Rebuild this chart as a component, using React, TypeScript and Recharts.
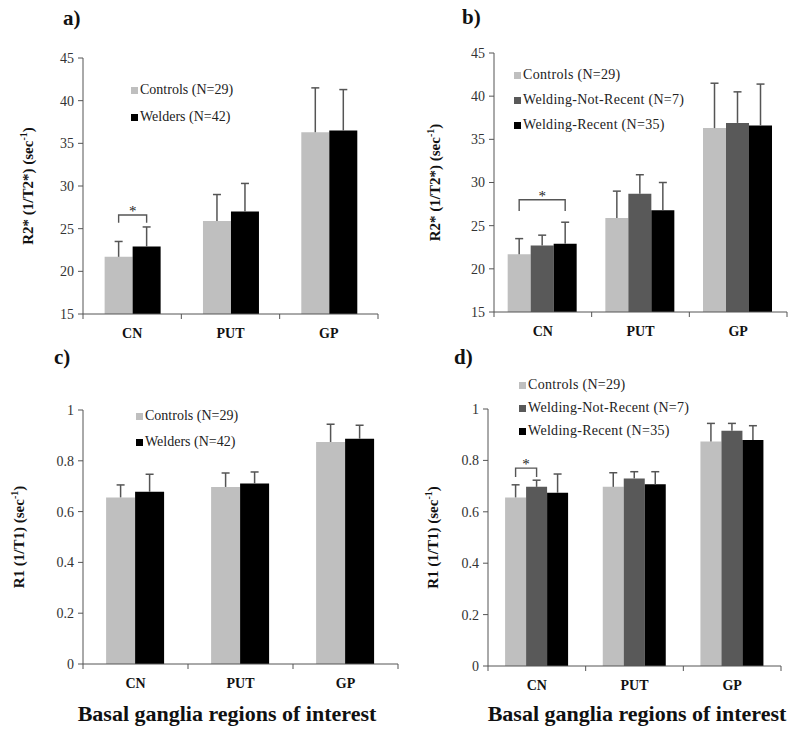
import React from 'react';
import { BarChart, Bar, XAxis, YAxis, ErrorBar, Legend } from 'recharts';

// ---------- data ----------
const categories = ['CN', 'PUT', 'GP'];
const namesTwo = ['Controls (N=29)', 'Welders (N=42)'];
const namesThree = ['Controls (N=29)', 'Welding-Not-Recent (N=7)', 'Welding-Recent (N=35)'];

const r2Ticks = [15, 20, 25, 30, 35, 40, 45];
const r1Ticks = [0, 0.2, 0.4, 0.6, 0.8, 1];

// R2* (panels a, b)
const r2ControlsMean = [21.7, 25.9, 36.3];
const r2ControlsSd = [1.8, 3.1, 5.2];
const r2WeldersMean = [22.9, 27.0, 36.5];
const r2WeldersSd = [2.3, 3.3, 4.8];
const r2NotRecentMean = [22.7, 28.7, 36.9];
const r2NotRecentSd = [1.2, 2.2, 3.6];
const r2RecentMean = [22.9, 26.8, 36.6];
const r2RecentSd = [2.5, 3.2, 4.8];

// R1 (panels c, d)
const r1ControlsMean = [0.656, 0.697, 0.874];
const r1ControlsSd = [0.049, 0.055, 0.07];
const r1WeldersMean = [0.678, 0.711, 0.887];
const r1WeldersSd = [0.069, 0.045, 0.053];
const r1NotRecentMean = [0.697, 0.73, 0.915];
const r1NotRecentSd = [0.026, 0.026, 0.029];
const r1RecentMean = [0.674, 0.707, 0.879];
const r1RecentSd = [0.073, 0.049, 0.056];

// significance brackets: level of bar, lower end of legs
const sigLevelA = [26.6, null, null];
const sigDropA = [25.7, null, null];
const sigLevelB = [28.0, null, null];
const sigDropB = [26.7, null, null];
const sigLevelD = [0.77, null, null];
const sigDropD = [0.735, null, null];

// ---------- styling ----------
const FONT = "'Liberation Serif', 'Times New Roman', serif";
const COLORS = ['#bfbfbf', '#595959', '#000000'];
const AXIS = '#555555';
const ERR = '#555555';

const buildRows = (means: number[][], sds: number[][]) =>
  categories.map((cat, i) => {
    const row: any = { cat };
    means.forEach((m, s) => {
      row['v' + s] = m[i];
      row['e' + s] = [0, sds[s][i]];
    });
    return row;
  });

const makeCatTick = (band: number) => (props: any) => {
  const { x, y, payload, index, visibleTicksCount } = props;
  const last = index === visibleTicksCount - 1;
  return (
    <g>
      <line x1={x - band / 2} x2={x - band / 2} y1={y} y2={y + 5} stroke={AXIS} />
      {last && <line x1={x + band / 2} x2={x + band / 2} y1={y} y2={y + 5} stroke={AXIS} />}
      <text x={x} y={y + 19} textAnchor="middle" dominantBaseline="central" fontFamily={FONT}
        fontWeight="bold" fontSize={14} fill="#111">{payload.value}</text>
    </g>
  );
};

const makeBracket = (levels: (number | null)[], drops: (number | null)[], span: number, yMin: number) =>
  (props: any) => {
    const vb = props.viewBox && props.viewBox.width != null ? props.viewBox : props;
    const { x, y, width, height } = vb;
    const index = props.index;
    const value = typeof props.value === 'number' ? props.value : Number(props.value);
    const level = levels[index];
    const drop = drops[index];
    if (level == null || drop == null || !isFinite(value)) return null;
    const bottom = y + height;
    const ppu = height / (value - yMin);
    const yl = bottom - (level - yMin) * ppu;
    const yd = bottom - (drop - yMin) * ppu;
    const x1 = x + width / 2;
    const x2 = x + width * (span + 0.5);
    return (
      <g>
        <path d={`M${x1},${yd}V${yl}H${x2}V${yd}`} stroke={ERR} strokeWidth={1.4} fill="none" />
        <text x={(x1 + x2) / 2} y={yl + 1} textAnchor="middle" fontFamily={FONT} fontSize={15}
          style={{ fill: '#222' }}>*</text>
      </g>
    );
  };

const YTitle = (props: any) => {
  const { tx, ty, main } = props;
  return (
    <text x={tx} y={ty} transform={`rotate(-90, ${tx}, ${ty})`} textAnchor="middle" dominantBaseline="central"
      fontFamily={FONT} fontWeight="bold" fontSize={15} fill="#111">
      {main}
      <tspan dy={-5} fontSize={10}>-1</tspan>
      <tspan dy={5}>)</tspan>
    </text>
  );
};

const makeLegend = (rowH: number, fontSize: number, spacing: number) => (props: any) => {
  const payload = props.payload || [];
  return (
    <div style={{ fontFamily: FONT, fontSize, color: '#222', letterSpacing: spacing }}>
      {payload.map((p: any, i: number) => (
        <div key={i} style={{ display: 'flex', alignItems: 'center', height: rowH, whiteSpace: 'nowrap' }}>
          <span style={{ display: 'inline-block', width: 7, height: 7, background: p.color, marginRight: 2 }} />
          <span>{p.value}</span>
        </div>
      ))}
    </div>
  );
};

type PanelProps = {
  left: number; top: number; w: number; h: number;
  plot: { l: number; r: number; t: number; b: number };
  rows: any[]; names: string[]; domain: [number, number]; ticks: number[];
  gap: string; titleMain: string; titleX: number;
  legend: { x: number; y: number; rowH: number; fontSize: number; spacing: number };
  sig: { levels: (number | null)[]; drops: (number | null)[]; span: number };
};

const Panel = (p: PanelProps) => {
  const yW = 50;
  const xH = 30;
  const margin = { top: p.plot.t, right: p.w - p.plot.r, left: p.plot.l - yW, bottom: p.h - p.plot.b - xH };
  const band = (p.plot.r - p.plot.l) / categories.length;
  return (
    <div style={{ position: 'absolute', left: p.left, top: p.top, width: p.w, height: p.h }}>
      <BarChart width={p.w} height={p.h} data={p.rows} margin={margin} barCategoryGap={p.gap} barGap={0}>
        <XAxis dataKey="cat" height={xH} tickLine={false} tickSize={0} tickMargin={0}
          axisLine={{ stroke: AXIS }} tick={makeCatTick(band)} interval={0} />
        <YAxis width={yW} domain={p.domain} ticks={p.ticks} allowDataOverflow tickSize={5} tickMargin={4}
          axisLine={{ stroke: AXIS }} tickLine={{ stroke: AXIS }}
          tick={{ fontFamily: FONT, fontSize: 14, fill: '#333' }}
          label={<YTitle tx={p.titleX} ty={(p.plot.t + p.plot.b) / 2} main={p.titleMain} />} />
        <Legend layout="vertical" align="center" verticalAlign="middle"
          wrapperStyle={{ left: p.legend.x, top: p.legend.y - p.legend.rowH / 2, width: 'auto' }}
          content={makeLegend(p.legend.rowH, p.legend.fontSize, p.legend.spacing)} />
        {p.names.map((n, s) => (
          <Bar key={n} dataKey={'v' + s} name={n} fill={COLORS[p.names.length === 2 && s === 1 ? 2 : s]}
            isAnimationActive={false}
            label={s === 0 ? makeBracket(p.sig.levels, p.sig.drops, p.sig.span, p.domain[0]) : undefined}>
            <ErrorBar dataKey={'e' + s} direction="y" width={4} stroke={ERR} strokeWidth={1.5} />
          </Bar>
        ))}
      </BarChart>
    </div>
  );
};

const labelStyle: React.CSSProperties = {
  position: 'absolute', fontFamily: FONT, fontWeight: 'bold', fontSize: 21, color: '#111', lineHeight: '22px',
};
const footStyle: React.CSSProperties = {
  position: 'absolute', fontFamily: FONT, fontWeight: 'bold', fontSize: 22, color: '#111',
  lineHeight: '26px', whiteSpace: 'nowrap', textAlign: 'center', width: 340,
};

const noSig = { levels: [null, null, null], drops: [null, null, null], span: 1 };

export default function App() {
  const rowsA = buildRows([r2ControlsMean, r2WeldersMean], [r2ControlsSd, r2WeldersSd]);
  const rowsB = buildRows([r2ControlsMean, r2NotRecentMean, r2RecentMean], [r2ControlsSd, r2NotRecentSd, r2RecentSd]);
  const rowsC = buildRows([r1ControlsMean, r1WeldersMean], [r1ControlsSd, r1WeldersSd]);
  const rowsD = buildRows([r1ControlsMean, r1NotRecentMean, r1RecentMean], [r1ControlsSd, r1NotRecentSd, r1RecentSd]);
  return (
    <div style={{ position: 'absolute', left: 0, top: 0, width: 800, height: 736, background: '#fff', overflow: 'hidden' }}>
      <style>{'.recharts-errorBar line:nth-of-type(3){display:none}'}</style>
      <Panel left={0} top={0} w={400} h={345} plot={{ l: 83, r: 378, t: 58, b: 314 }}
        rows={rowsA} names={namesTwo} domain={[15, 45]} ticks={r2Ticks} gap="22%"
        titleMain="R2* (1/T2*) (sec" titleX={28}
        legend={{ x: 131, y: 90, rowH: 27, fontSize: 14, spacing: 0 }}
        sig={{ levels: sigLevelA, drops: sigDropA, span: 1 }} />
      <Panel left={400} top={0} w={400} h={345} plot={{ l: 94, r: 387, t: 53, b: 312 }}
        rows={rowsB} names={namesThree} domain={[15, 45]} ticks={r2Ticks} gap="14%"
        titleMain="R2* (1/T2*) (sec" titleX={35}
        legend={{ x: 114, y: 75, rowH: 25, fontSize: 14, spacing: 0.3 }}
        sig={{ levels: sigLevelB, drops: sigDropB, span: 2 }} />
      <Panel left={0} top={340} w={400} h={396} plot={{ l: 83, r: 398, t: 70, b: 324 }}
        rows={rowsC} names={namesTwo} domain={[0, 1]} ticks={r1Ticks} gap="22%"
        titleMain="R1 (1/T1) (sec" titleX={19}
        legend={{ x: 136, y: 76, rowH: 26, fontSize: 14, spacing: 0 }}
        sig={noSig} />
      <Panel left={400} top={340} w={400} h={396} plot={{ l: 88, r: 381, t: 69, b: 326 }}
        rows={rowsD} names={namesThree} domain={[0, 1]} ticks={r1Ticks} gap="17.5%"
        titleMain="R1 (1/T1) (sec" titleX={33}
        legend={{ x: 119, y: 45, rowH: 23, fontSize: 14, spacing: 0.3 }}
        sig={{ levels: sigLevelD, drops: sigDropD, span: 1 }} />

      <div style={{ ...labelStyle, left: 63, top: 7 }}>a)</div>
      <div style={{ ...labelStyle, left: 462, top: 6 }}>b)</div>
      <div style={{ ...labelStyle, left: 54, top: 346 }}>c)</div>
      <div style={{ ...labelStyle, left: 454, top: 346 }}>d)</div>

      <div style={{ ...footStyle, left: 227 - 170, top: 701 }}>Basal ganglia regions of interest</div>
      <div style={{ ...footStyle, left: 637 - 170, top: 701 }}>Basal ganglia regions of interest</div>
    </div>
  );
}
